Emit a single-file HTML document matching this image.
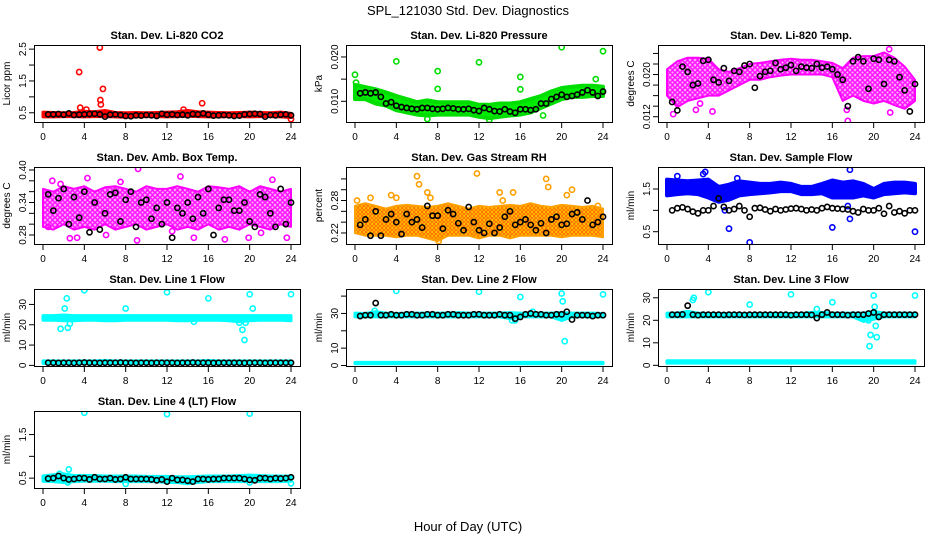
<!DOCTYPE html>
<html><head><meta charset="utf-8"><style>
body{margin:0;background:#fff}
svg{display:block;font-family:"Liberation Sans",sans-serif}
</style></head><body>
<svg id="chart" width="936" height="540" viewBox="0 0 936 540" xmlns="http://www.w3.org/2000/svg">
<defs>
<pattern id="pat-mag" width="5" height="5" patternUnits="userSpaceOnUse"><rect width="5" height="5" fill="#ffb0ff"/><circle cx="2.5" cy="2.5" r="1.8" fill="none" stroke="#ff00ff" stroke-width="1.3"/></pattern>
<pattern id="pat-rh" width="4" height="4" patternUnits="userSpaceOnUse"><rect width="4" height="4" fill="#ffdd00"/><circle cx="2" cy="2" r="1.4" fill="none" stroke="#ff6a00" stroke-width="1.1"/></pattern>
</defs>
<rect width="936" height="540" fill="#fff"/>
<text x="468" y="15" text-anchor="middle" font-size="13">SPL_121030  Std. Dev. Diagnostics</text>
<text x="468" y="531" text-anchor="middle" font-size="13">Hour of Day (UTC)</text>
<g id="panels"></g>
</svg>
<script>
const xTicks = [0,4,8,12,16,20,24];
const bandHours = [0,1,2,3,4,5,6,7,8,9,10,11,12,13,14,15,16,17,18,19,20,21,22,23,24];
const blackHours = [0.5,1,1.5,2,2.5,3,3.5,4,4.5,5,5.5,6,6.5,7,7.5,8,8.5,9,9.5,10,10.5,11,11.5,12,12.5,13,13.5,14,14.5,15,15.5,16,16.5,17,17.5,18,18.5,19,19.5,20,20.5,21,21.5,22,22.5,23,23.5,24];

// P1 CO2
const co2Lo = [0.37,0.37,0.38,0.38,0.37,0.38,0.38,0.37,0.36,0.37,0.38,0.38,0.37,0.38,0.39,0.38,0.37,0.37,0.38,0.38,0.37,0.38,0.38,0.37,0.35];
const co2Hi = [0.52,0.51,0.5,0.51,0.55,0.53,0.57,0.51,0.5,0.51,0.5,0.51,0.52,0.53,0.57,0.53,0.52,0.51,0.5,0.51,0.52,0.51,0.5,0.52,0.48];
const co2OutX = [3.5,3.6,5.5,5.55,5.6,5.8,15.4,4.2,24,13.6];
const co2OutY = [1.78,0.66,2.55,0.9,0.76,1.25,0.8,0.6,0.3,0.6];
const co2Black = [0.45,0.45,0.46,0.44,0.48,0.43,0.44,0.45,0.46,0.47,0.45,0.38,0.44,0.45,0.43,0.40,0.39,0.42,0.41,0.43,0.42,0.40,0.47,0.44,0.45,0.43,0.44,0.42,0.46,0.45,0.48,0.44,0.41,0.42,0.43,0.42,0.40,0.41,0.45,0.46,0.47,0.46,0.38,0.43,0.42,0.44,0.45,0.42];

// P2 Pressure
const presLo = [0.0105,0.0105,0.0095,0.009,0.008,0.0075,0.007,0.0068,0.007,0.007,0.007,0.007,0.0065,0.0062,0.0065,0.0068,0.007,0.0075,0.0085,0.0095,0.0105,0.011,0.011,0.0112,0.0112];
const presHi = [0.0137,0.0132,0.0127,0.012,0.0112,0.0105,0.0098,0.0102,0.0098,0.0098,0.0098,0.0098,0.0092,0.0092,0.0095,0.0095,0.0098,0.0105,0.0112,0.0122,0.013,0.0133,0.0135,0.0135,0.0133];
const presOutX = [0,0.1,4,8,8,12,16,16,20,24,23.3,13,7,18.2];
const presOutY = [0.016,0.0142,0.019,0.0168,0.0128,0.0188,0.0155,0.0127,0.0222,0.0213,0.015,0.0058,0.006,0.0068];
const presBlack = [0.0118,0.012,0.0118,0.012,0.011,0.0095,0.0098,0.009,0.0087,0.0085,0.0083,0.0082,0.0085,0.0085,0.0083,0.0082,0.0083,0.0085,0.0084,0.0082,0.0082,0.0083,0.008,0.0078,0.0085,0.0082,0.0078,0.0077,0.0082,0.0077,0.0074,0.0082,0.0082,0.008,0.0082,0.0095,0.0095,0.0105,0.011,0.0115,0.011,0.0112,0.0115,0.012,0.0125,0.012,0.0112,0.0122];

// P3 Li-820 Temp
const ltLo = [0.016,0.0138,0.015,0.0155,0.016,0.016,0.017,0.018,0.019,0.019,0.0195,0.0198,0.02,0.02,0.02,0.02,0.0195,0.015,0.016,0.015,0.0145,0.015,0.0142,0.0135,0.015];
const ltHi = [0.021,0.0225,0.0232,0.0232,0.023,0.021,0.0205,0.0212,0.022,0.0222,0.0225,0.0228,0.023,0.0228,0.0228,0.0225,0.0222,0.0212,0.0232,0.0235,0.0235,0.0242,0.0232,0.0215,0.019];
const ltOutX = [0.6,4.4,17.5,21.5,2.8,3.2,17.4,21.6];
const ltOutY = [0.0125,0.013,0.0112,0.0248,0.0133,0.0145,0.0133,0.0128];
const ltBlack = [0.0148,0.0132,0.0215,0.0205,0.0180,0.0183,0.0226,0.0228,0.0190,0.0185,0.0212,0.0188,0.0207,0.0205,0.0217,0.0220,0.0175,0.0197,0.0205,0.0207,0.0222,0.0210,0.0213,0.0218,0.0207,0.0215,0.0213,0.0212,0.0220,0.0213,0.0215,0.0210,0.0200,0.0190,0.0140,0.0225,0.0233,0.0225,0.0173,0.0230,0.0228,0.0182,0.0228,0.0225,0.0195,0.0170,0.0130,0.0182];

// P4 Amb Box Temp
const abLo = [0.295,0.29,0.3,0.29,0.295,0.29,0.3,0.29,0.295,0.3,0.29,0.295,0.3,0.29,0.295,0.29,0.3,0.29,0.295,0.29,0.3,0.295,0.29,0.3,0.295];
const abHi = [0.365,0.36,0.37,0.365,0.37,0.36,0.368,0.37,0.365,0.36,0.37,0.365,0.365,0.37,0.365,0.36,0.37,0.368,0.365,0.37,0.36,0.37,0.365,0.36,0.365];
const abOutX = [0.9,2.6,3.3,4.3,9.2,13.3,0.5,6.1,9.1,12.5,17.6,19.9,22.2,23.6,7.5,1.7,14.6,21.1];
const abOutY = [0.38,0.274,0.275,0.385,0.402,0.388,0.295,0.28,0.27,0.287,0.272,0.275,0.382,0.275,0.378,0.374,0.275,0.284];
const abBlack = [0.355,0.325,0.348,0.365,0.30,0.35,0.312,0.36,0.285,0.34,0.29,0.32,0.355,0.358,0.305,0.345,0.36,0.295,0.34,0.345,0.31,0.33,0.30,0.34,0.275,0.33,0.32,0.34,0.31,0.35,0.32,0.365,0.28,0.33,0.345,0.345,0.325,0.325,0.34,0.305,0.295,0.355,0.35,0.32,0.295,0.365,0.30,0.34];

// P5 Gas Stream RH
const rhLo = [0.22,0.215,0.215,0.215,0.212,0.215,0.215,0.21,0.205,0.215,0.215,0.215,0.21,0.215,0.215,0.21,0.215,0.215,0.215,0.215,0.212,0.215,0.215,0.215,0.212];
const rhHi = [0.27,0.275,0.27,0.265,0.27,0.272,0.27,0.268,0.27,0.275,0.27,0.265,0.27,0.268,0.27,0.272,0.27,0.275,0.27,0.268,0.272,0.27,0.268,0.27,0.265];
const rhOutX = [0.2,1.5,3.5,4,6,6.2,7,7.3,8.1,14,14.3,15.3,18.5,18.7,21,23.5,20.5,11.8];
const rhOutY = [0.28,0.285,0.29,0.285,0.325,0.31,0.295,0.285,0.205,0.295,0.28,0.295,0.32,0.305,0.3,0.27,0.29,0.33];
const rhBlack = [0.235,0.245,0.215,0.26,0.215,0.245,0.255,0.24,0.218,0.255,0.24,0.245,0.23,0.27,0.252,0.252,0.228,0.262,0.255,0.238,0.225,0.268,0.24,0.225,0.22,0.237,0.22,0.23,0.25,0.26,0.235,0.24,0.245,0.235,0.225,0.238,0.22,0.245,0.25,0.235,0.237,0.255,0.258,0.245,0.28,0.235,0.24,0.25];

// P6 Sample Flow
const sfLo = [1.35,1.38,1.4,1.38,1.3,1.2,1.25,1.35,1.38,1.4,1.42,1.45,1.45,1.38,1.38,1.4,1.3,1.3,1.3,1.35,1.3,1.38,1.4,1.42,1.4];
const sfHi = [1.72,1.7,1.68,1.7,1.72,1.55,1.6,1.68,1.65,1.62,1.62,1.65,1.62,1.55,1.55,1.62,1.7,1.65,1.68,1.62,1.5,1.62,1.65,1.65,1.62];
const sfOutX = [6,8,16,24,17.7,3.5,17.7,3.7,6.8,1,17.5,5.6];
const sfOutY = [0.57,0.25,0.6,0.5,1.95,1.85,0.8,1.9,1.75,1.8,1.1,1.0];
const sfBlack = [1.0,1.05,1.07,1.03,0.97,0.93,1.0,1.0,1.1,1.28,1.08,1.0,1.03,1.1,1.0,0.85,1.05,1.06,1.02,0.98,1.03,1.0,1.02,1.04,1.05,1.03,1.0,1.02,1.0,1.05,1.08,1.05,1.04,1.03,1.02,0.98,0.95,1.03,1.0,1.0,1.05,0.92,1.1,0.95,0.98,0.93,1.0,1.0];

// P7 Line 1 Flow
const l1Lo = [22.2,22.2,22,22,22.2,22.2,22,22,22.2,22.2,22.2,22.2,22.2,22,22,22.2,22.2,22.2,22,21.5,22,22.2,22.2,22.2,22];
const l1Hi = [24.5,24.5,24.8,24.5,24.5,24.5,24.5,24.5,24.5,24.5,24.5,24.5,24.5,24.5,24.5,24.5,24.5,24.5,24.5,24.5,24.5,24.5,24.5,24.5,24.5];
const l1bLo = [1.0,1.0,1.0,1.0,1.0,1.0,1.0,1.0,1.0,1.0,1.0,1.0,1.0,1.0,1.0,1.0,1.0,1.0,1.0,1.0,1.0,1.0,1.0,1.0,1.0];
const l1bHi = [2.2,2.2,2.2,2.2,2.2,2.2,2.4,2.2,2.2,2.2,2.2,2.2,2.2,2.2,2.2,2.2,2.4,2.2,2.2,2.2,2.2,2.2,2.2,2.2,2.2];
const l1OutX = [1.7,2.1,2.3,2.4,2.6,4,8,12,16,19,19.3,19.5,19.6,20,20.3,24,14.6];
const l1OutY = [18,28,33,18.5,20.5,37,28,36,33,21,17.5,12.5,21,35,28,35,21.5];
const l1Black = [1.3,1.3,1.2,1.3,1.3,1.2,1.3,1.4,1.3,1.3,1.2,1.3,1.3,1.3,1.4,1.3,1.3,1.2,1.3,1.3,1.2,1.3,1.3,1.3,1.3,1.2,1.3,1.3,1.4,1.3,1.3,1.3,1.2,1.3,1.3,1.3,1.3,1.3,1.2,1.3,1.3,1.3,1.2,1.3,1.3,1.3,1.3,1.3];

// P8 Line 2 Flow
const l2Lo = [28,28,28,28,28,28,28,28,28,28,28,28,28,28,28,27,28,28,28,28,26,28,28,28,28];
const l2Hi = [30.2,30,31,30.2,30,30.2,30.2,30.2,30.2,30.2,30.5,30.2,30.2,30.2,30.2,30.5,30.2,30.2,30.2,30.2,30.5,30.2,30.2,30.2,30];
const l2bLo = [1.0,1.0,1.0,1.0,1.0,1.0,1.0,1.0,1.0,1.0,1.0,1.0,1.0,1.0,1.0,1.0,1.0,1.0,1.0,1.0,1.0,1.0,1.0,1.0,1.0];
const l2bHi = [1.8,1.8,1.8,1.8,1.8,1.8,1.8,1.8,1.8,1.8,1.8,1.8,1.8,1.8,1.8,1.8,1.8,1.8,1.8,1.8,1.8,1.8,1.8,1.8,1.8];
const l2OutX = [4,12,16,20,20.1,20.3,15.2,24,1.9,15.5,17.2];
const l2OutY = [43,42.5,39.5,41.5,37,14,26,41,31.5,26,31];
const l2Black = [28.5,29,29,36,29,29,29.5,29,29,29.5,29.5,29,29,29.5,29.5,29,29,29.5,29.5,29,29,29,29.5,29.5,29,29,29,29.5,29,29,27,28,29.5,30,29.5,29.5,29,29,29.5,29.5,31,26.5,29,29,29,28.5,29,29];

// P9 Line 3 Flow
const l3Lo = [21.5,21.5,21.5,21.5,21.5,21.5,21.5,21.5,21.5,21.5,21.5,21.5,21.5,21.5,21.5,21.5,21.5,21.5,21.5,19.5,20.5,21.5,21.5,21.5,21.5];
const l3Hi = [23.2,23.2,24,23.2,23,23,23,23,23,23,23,23,23,23,23.5,23.5,23.2,23.2,23.2,23.2,24,23.2,23.2,23.2,23.2];
const l3bLo = [1.0,1.0,1.0,1.0,1.0,1.0,1.0,1.0,1.0,1.0,1.0,1.0,1.0,1.0,1.0,1.0,1.0,1.0,1.0,1.0,1.0,1.0,1.0,1.0,1.0];
const l3bHi = [2.0,2.0,2.0,2.0,2.0,2.0,2.0,2.0,2.0,2.0,2.0,2.0,2.0,2.0,2.0,2.0,2.0,2.0,2.0,2.0,2.0,2.0,2.0,2.0,2.0];
const l3OutX = [2.5,2.6,4,8,12,16,19.5,19.7,19.6,20,20.1,20.2,20.3,24,14.5];
const l3OutY = [29,30,32.5,27,31.5,28,20,13.5,8.5,31,26,17.5,12.5,31,25];
const l3Black = [22.5,22.5,22.6,26.5,22.5,22.3,22.5,22.5,22.5,22.5,22.4,22.5,22.5,22.5,22.4,22.5,22.5,22.5,22.5,22.5,22.5,22.5,22.5,22.3,22.5,22.5,22.5,22.4,21,22.5,23.5,22.5,22.5,22.5,22.3,22.5,22.5,22.5,23,23.5,21.5,22.5,22.5,22.5,22.5,22.5,22.5,22.5];

// P10 Line 4 Flow
const l4Lo = [0.43,0.42,0.4,0.42,0.43,0.43,0.43,0.42,0.42,0.42,0.42,0.42,0.4,0.4,0.37,0.4,0.42,0.42,0.42,0.42,0.42,0.42,0.42,0.42,0.43];
const l4Hi = [0.55,0.58,0.6,0.56,0.56,0.56,0.55,0.55,0.55,0.55,0.54,0.54,0.54,0.53,0.53,0.54,0.55,0.55,0.55,0.56,0.57,0.56,0.55,0.55,0.55];
const l4OutX = [4,12,20,2.5,1.6,24,8,2.4,20];
const l4OutY = [2.0,1.97,1.98,0.7,0.6,0.38,0.37,0.4,0.4];
const l4Black = [0.49,0.5,0.55,0.5,0.47,0.48,0.5,0.5,0.47,0.52,0.48,0.48,0.5,0.47,0.48,0.52,0.48,0.48,0.48,0.48,0.47,0.45,0.47,0.42,0.5,0.46,0.46,0.44,0.42,0.48,0.48,0.47,0.48,0.48,0.5,0.5,0.5,0.5,0.48,0.46,0.45,0.5,0.5,0.48,0.5,0.49,0.5,0.52];

const cols = [34,346,658], rows = [45,167,289,411], PW = 266, PH = 77;
const panels = [
 {name:'co2',title:'Stan. Dev. Li-820 CO2',ylab:'Licor ppm',c:0,r:0,lo:0.21,hi:2.63,ticks:[0.5,1,1.5,2,2.5],labels:['0.5','','1.5','','2.5'],col:'#ff0000',fill:'#ff0000',sw:3,bands:[[co2Lo,co2Hi]],ox:co2OutX,oy:co2OutY,bk:co2Black},
 {name:'pressure',title:'Stan. Dev. Li-820 Pressure',ylab:'kPa',c:1,r:0,lo:0.00533,hi:0.0227,ticks:[0.010,0.015,0.020],labels:['0.010','','0.020'],col:'#00dd00',fill:'#00ee00',sw:4,bands:[[presLo,presHi]],ox:presOutX,oy:presOutY,bk:presBlack},
 {name:'li820-temp',title:'Stan. Dev. Li-820 Temp.',ylab:'degrees C',c:2,r:0,lo:0.011,hi:0.0256,ticks:[0.012,0.014,0.016,0.018,0.020,0.022,0.024],labels:['0.012','','','','0.020','',''],col:'#ff00ff',fill:'url(#pat-mag)',sw:2,bands:[[ltLo,ltHi]],ox:ltOutX,oy:ltOutY,bk:ltBlack},
 {name:'amb-box-temp',title:'Stan. Dev. Amb. Box Temp.',ylab:'degrees C',c:0,r:1,lo:0.2634,hi:0.4055,ticks:[0.28,0.30,0.32,0.34,0.36,0.38,0.40],labels:['0.28','','','0.34','','','0.40'],col:'#ff00ff',fill:'url(#pat-mag)',sw:2,bands:[[abLo,abHi]],ox:abOutX,oy:abOutY,bk:abBlack},
 {name:'gas-stream-rh',title:'Stan. Dev. Gas Stream RH',ylab:'percent',c:1,r:1,lo:0.1996,hi:0.342,ticks:[0.22,0.24,0.26,0.28,0.30,0.32],labels:['0.22','','','0.28','',''],col:'#ffa000',fill:'url(#pat-rh)',sw:2,bands:[[rhLo,rhHi]],ox:rhOutX,oy:rhOutY,bk:rhBlack},
 {name:'sample-flow',title:'Stan. Dev. Sample Flow',ylab:'ml/min',c:2,r:1,lo:0.212,hi:2.015,ticks:[0.5,1,1.5],labels:['0.5','','1.5'],col:'#0000ff',fill:'#0000ff',sw:4,bands:[[sfLo,sfHi]],ox:sfOutX,oy:sfOutY,bk:sfBlack},
 {name:'line1-flow',title:'Stan. Dev. Line 1 Flow',ylab:'ml/min',c:0,r:2,lo:-0.3,hi:37.6,ticks:[0,10,20,30],labels:['0','10','20','30'],col:'#00ffff',fill:'#00ffff',sw:3,bands:[[l1Lo,l1Hi],[l1bLo,l1bHi]],ox:l1OutX,oy:l1OutY,bk:l1Black},
 {name:'line2-flow',title:'Stan. Dev. Line 2 Flow',ylab:'ml/min',c:1,r:2,lo:-0.3,hi:44.1,ticks:[0,10,20,30,40],labels:['0','10','','30',''],col:'#00ffff',fill:'#00ffff',sw:3,bands:[[l2Lo,l2Hi],[l2bLo,l2bHi]],ox:l2OutX,oy:l2OutY,bk:l2Black},
 {name:'line3-flow',title:'Stan. Dev. Line 3 Flow',ylab:'ml/min',c:2,r:2,lo:-0.3,hi:33.9,ticks:[0,10,20,30],labels:['0','10','20','30'],col:'#00ffff',fill:'#00ffff',sw:3,bands:[[l3Lo,l3Hi],[l3bLo,l3bHi]],ox:l3OutX,oy:l3OutY,bk:l3Black},
 {name:'line4-flow',title:'Stan. Dev. Line 4 (LT) Flow',ylab:'ml/min',c:0,r:3,lo:0.274,hi:2.04,ticks:[0.5,1,1.5],labels:['0.5','','1.5'],col:'#00ffff',fill:'#00ffff',sw:3,bands:[[l4Lo,l4Hi]],ox:l4OutX,oy:l4OutY,bk:l4Black}
];

const NS = 'http://www.w3.org/2000/svg';
const root = document.getElementById('panels');
function mk(tag, attrs, parent){const e=document.createElementNS(NS,tag);for(const k in attrs)e.setAttribute(k,attrs[k]);parent.appendChild(e);return e;}

panels.forEach(p=>{
  const L = cols[p.c], T = rows[p.r], B = T+PH, R = L+PW;
  const xs = h => L+9 + h*(248/24);
  const ys = v => B - (v-p.lo)/(p.hi-p.lo)*PH;
  const g = mk('g',{},root);
  
  
  const clipId = 'clip-'+p.name;
  const cp = mk('clipPath',{id:clipId},g);
  mk('rect',{x:L,y:T,width:PW,height:PH},cp);
  const t = mk('text',{x:(L+R)/2,y:T-6,'text-anchor':'middle','font-size':11,'font-weight':'bold'},g);
  t.textContent = p.title;
  
  
  const yl = mk('text',{x:0,y:0,'text-anchor':'middle','font-size':10,transform:`translate(${L-24},${(T+B)/2}) rotate(-90)`},g);
  yl.textContent = p.ylab;
  
  
  const data = mk('g',{'clip-path':`url(#${clipId})`},g);
  
  
  p.bands.forEach(([lo,hi])=>{
    let d='';
    bandHours.forEach((h,i)=>{d+=(i?'L':'M')+xs(h).toFixed(1)+','+ys(hi[i]).toFixed(1);});
    for(let i=bandHours.length-1;i>=0;i--) d+='L'+xs(bandHours[i]).toFixed(1)+','+ys(lo[i]).toFixed(1);
    const band = mk('path',{d:d+'Z',fill:p.fill,stroke:p.col,'stroke-width':p.sw,'stroke-linejoin':'round'},data);
    
    
  });
  p.ox.forEach((x,i)=>{
    const c = mk('circle',{cx:xs(x),cy:ys(p.oy[i]),r:2.6,fill:'none',stroke:p.col,'stroke-width':1.6},data);
    
    
  });
  p.bk.forEach((v,i)=>{
    const c = mk('circle',{cx:xs(blackHours[i]),cy:ys(v),r:2.6,fill:'none',stroke:'#000','stroke-width':1.6},data);
    
    
  });
  const box = mk('rect',{x:L+0.5,y:T+0.5,width:PW,height:PH,fill:'none',stroke:'#000','stroke-width':1},g);
  
  
  const xa = mk('g',{},g);
  
  
  xTicks.forEach(v=>{
    const x = xs(v);
    mk('line',{x1:x,x2:x,y1:B+1,y2:B+6,stroke:'#000'},xa);
    const tx = mk('text',{x:x,y:B+18,'text-anchor':'middle','font-size':10},xa);
    tx.textContent = v;
  });
  const ya = mk('g',{},g);
  
  
  p.ticks.forEach((v,i)=>{
    const y = ys(v);
    mk('line',{x1:L-5,x2:L,y1:y,y2:y,stroke:'#000'},ya);
    if(p.labels[i]){
      const tx = mk('text',{x:0,y:0,'text-anchor':'middle','font-size':10,transform:`translate(${L-8},${y}) rotate(-90)`},ya);
      tx.textContent = p.labels[i];
    }
  });
});
</script>
</body></html>
